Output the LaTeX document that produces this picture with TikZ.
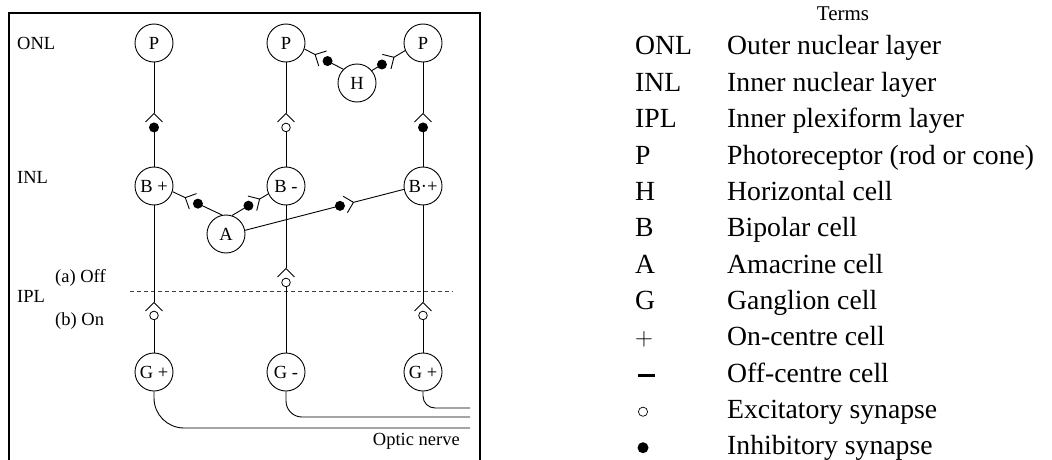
\documentclass[tikz,border=0pt]{standalone}
\usepackage{fontspec}
\setmainfont{Liberation Serif}
\usetikzlibrary{calc}

\newcommand{\cellfont}{\fontsize{18.5}{22}\selectfont}
\newcommand{\termfont}{\fontsize{27.7}{33}\selectfont}
\newcommand{\headfont}{\fontsize{21}{25}\selectfont}

% synapse between two anchors: fork at distance #3 from the first one,
% transmitter dot at distance #4, dot style #5
\newcommand{\synapse}[5]{%
  \coordinate (ap) at ($(#1)!#3!(#2)$);
  \coordinate (dt) at ($(#1)!#4!(#2)$);
  \draw[wire] (#1) -- (ap);
  \draw[wire] ($(ap)!12pt!45:(dt)$) -- (ap) -- ($(ap)!12pt!-45:(dt)$);
  \draw[wire] (dt) -- (#2);
  \node[#5] at (dt) {};
}

\tikzset{
  cell/.style={circle, draw, line width=0.9pt, minimum size=38pt, inner sep=0pt, font=\cellfont},
  wire/.style={line width=0.9pt},
  inh/.style={circle, fill=black, minimum size=10pt, inner sep=0pt},
  exc/.style={circle, draw, fill=white, line width=0.8pt, minimum size=8.6pt, inner sep=0pt},
  frameline/.style={line width=2pt},
  lab/.style={font=\cellfont, inner sep=0pt, anchor=base west},
  term/.style={font=\termfont, inner sep=0pt, anchor=base west},
}

\begin{document}
\begin{tikzpicture}[x=1pt, y=1pt]
\useasboundingbox (0,0) rectangle (1052,459);

% frame, open at the bottom
\draw[frameline] (9,-2) -- (9,446) -- (480,446) -- (480,-2);

% layer labels
\node[lab] (onl) at (17,409) {ONL};
\node[lab] (inl) at (17,276) {INL};
\node[lab] (ipl) at (17,157) {IPL};
\node[lab] (off) at (55,177) {(a) Off};
\node[lab] (on)  at (55,134) {(b) On};

% IPL boundary
\coordinate (dl) at (130,168);
\coordinate (dr) at (453,168);
\draw[black!75, line width=0.9pt, dash pattern=on 4pt off 3pt] (dl) -- (dr);

% cells
\node[cell] (P1) at (154,416) {P};
\node[cell] (P2) at (286,416) {P};
\node[cell] (P3) at (423,416) {P};
\node[cell] (H)  at (357,376) {H};
\node[cell] (B1) at (154,273) {B +};
\node[cell] (B2) at (286,273) {B -};
\node[cell] (B3) at (423,273) {B·+};
\node[cell] (A)  at (226,225) {A};
\node[cell] (G1) at (154,87) {G +};
\node[cell] (G2) at (286,87) {G -};
\node[cell] (G3) at (423,87) {G +};

% photoreceptor to bipolar
\synapse{P1.south}{B1.north}{51pt}{65pt}{inh}
\synapse{P2.south}{B2.north}{51pt}{65pt}{exc}
\synapse{P3.south}{B3.north}{51pt}{65pt}{inh}

% photoreceptors and horizontal cell
\synapse{P2.-18}{H.135}{12pt}{26pt}{inh}
\synapse{P3.203}{H.40}{13pt}{27pt}{inh}

% bipolar cells and amacrine cell
\synapse{B1.-17}{A.102}{14pt}{28pt}{inh}
\synapse{B2.204}{A.72}{10pt}{23pt}{inh}
\synapse{B3.190}{A.11}{52pt}{66pt}{inh}

% bipolar to ganglion
\synapse{B1.south}{G1.north}{97pt}{110pt}{exc}
\synapse{B2.south}{G2.north}{63pt}{77pt}{exc}
\synapse{B3.south}{G3.north}{97pt}{110pt}{exc}

% optic nerve fibres
\coordinate (n1) at (470,31);
\coordinate (n2) at (470,42);
\coordinate (n3) at (470,51);
\draw[wire, rounded corners=30pt] (G1.south) |- (n1);
\draw[wire, rounded corners=16pt] (G2.south) |- (n2);
\draw[wire, rounded corners=12pt] (G3.south) |- (n3);
\node[font=\cellfont, inner sep=0pt, anchor=base east] (nerve) at (460,14) {Optic nerve};

% list of terms
\node[font=\headfont, inner sep=0pt, anchor=base] (head) at (843,438) {Terms};
\foreach \k/\d [count=\i from 0] in {ONL/Outer nuclear layer, INL/Inner nuclear layer,
    IPL/Inner plexiform layer, P/Photoreceptor (rod or cone), H/Horizontal cell,
    B/Bipolar cell, A/Amacrine cell, G/Ganglion cell}{
  \node[term] (k\i) at (635,404-36.36*\i) {\k};
  \node[term] (d\i) at (727,404-36.36*\i) {\d};
}
\node[term] (k8)  at (635,404-36.36*8)  {$+$};
\node[term] (d8)  at (727,404-36.36*8)  {On-centre cell};
\node[term] (d9)  at (727,404-36.36*9)  {Off-centre cell};
\node[term] (d10) at (727,404-36.36*10) {Excitatory synapse};
\node[term] (d11) at (727,404-36.36*11) {Inhibitory synapse};
\draw[line width=2.6pt] (638,83.3) -- (655,83.3);
\draw[line width=0.7pt] (643,47.3) circle[radius=4.6pt];
\fill (643,11.3) circle[radius=5.5pt];
\end{tikzpicture}
\end{document}
